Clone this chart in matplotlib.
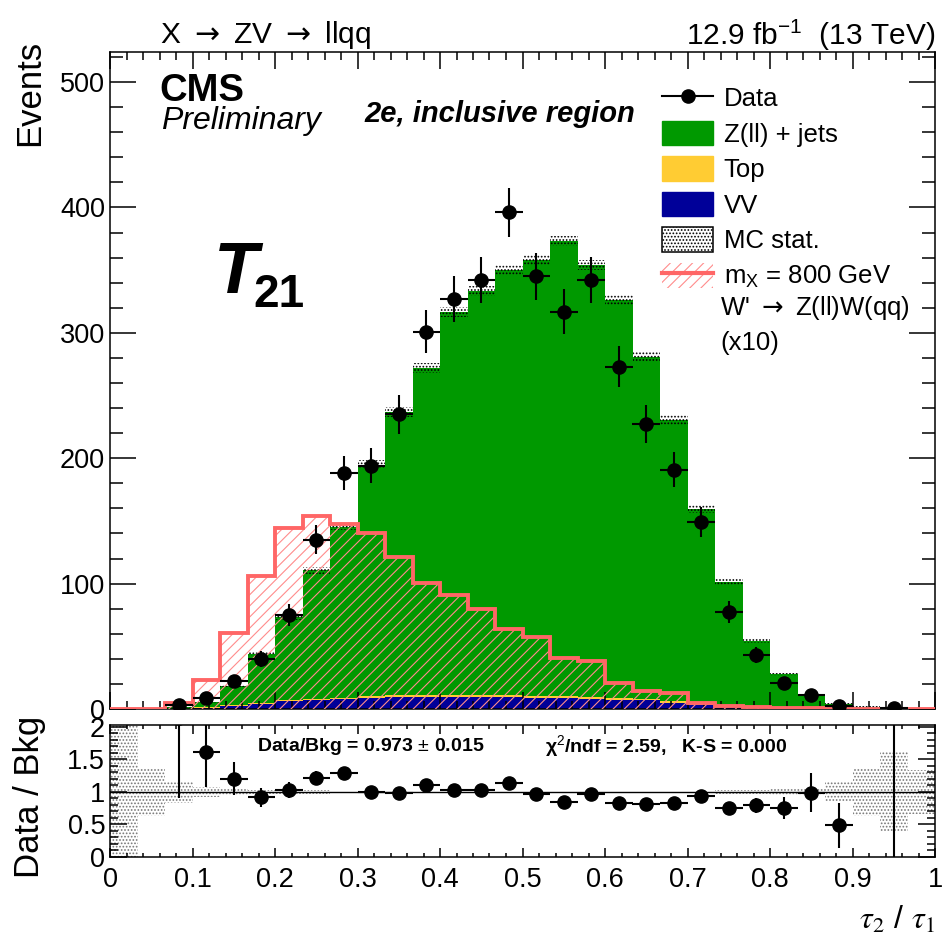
import numpy as np
import matplotlib.pyplot as plt
from matplotlib.patches import Patch
from matplotlib.lines import Line2D
from matplotlib.ticker import MultipleLocator

plt.rcParams['font.family'] = ['Liberation Sans', 'DejaVu Sans']
plt.rcParams['mathtext.fontset'] = 'custom'
plt.rcParams['mathtext.rm'] = 'Liberation Sans'
plt.rcParams['mathtext.it'] = 'Liberation Sans:italic'
plt.rcParams['mathtext.bf'] = 'Liberation Sans:bold'
plt.rcParams['hatch.linewidth'] = 0.8
plt.rcParams['axes.linewidth'] = 1.1

# 30 bins of tau21 between 0 and 1
edges = np.linspace(0, 1, 31)

# background processes (events per bin)
zjets = [0.02, 0.1, 1.1, 4.4, 15.5, 39.2, 66.2, 102.5, 136.5, 184.8,
         226, 261, 305.5, 322.5, 339, 347.5, 363.5, 344.5, 317, 272.8,
         224.5, 155, 98.2, 52.2, 26.5, 10.4, 3.7, 1.2, 0.35, 0.3]
top = [0, 0, 0, 0.2, 0.3, 0.5, 0.8, 1, 1, 1.2,
       1.5, 1.5, 1.5, 1.5, 1.5, 1.5, 1.5, 1.5, 1.5, 1.2,
       1, 1, 0.8, 0.5, 0.3, 0.2, 0.1, 0.1, 0, 0]
vv = [0, 0, 0.3, 1, 2.5, 4, 6, 7, 8, 9,
      9.5, 9.5, 9.5, 9.5, 9.5, 9, 8.5, 8, 7.5, 7,
      5, 3.5, 2.5, 1.5, 1, 0.5, 0.3, 0.2, 0.1, 0]
# MC statistical uncertainty on the total background
mc_err = [0.03, 0.037, 0.24, 0.45, 0.9, 1.6, 2.2, 2.8, 3.0, 3.5,
          4, 4, 4, 4, 4, 4, 4, 4, 4, 4,
          4, 3.5, 2.5, 1.6, 1.1, 0.6, 0.6, 0.55, 0.28, 0.1]
# observed data
data = [0, 0, 3, 9, 22, 40, 75, 135, 188, 194,
        235, 301, 327, 342, 396, 345, 317, 342, 273, 227,
        191, 149, 77, 43, 21, 11, 2, 0, 1, 0]
# signal m_X = 800 GeV (x10)
signal = [0, 0, 4.5, 23, 61, 106, 144, 154, 147.5, 140,
          121, 100.5, 91, 80, 64, 57.5, 41, 38, 20.5, 14.5,
          12.5, 5, 2.6, 1.9, 0.4, 0.4, 0.3, 0.3, 0.3, 0.3]

zjets = np.array(zjets); top = np.array(top); vv = np.array(vv)
mc_err = np.array(mc_err); data = np.array(data, dtype=float); signal = np.array(signal)
centers = 0.5 * (edges[:-1] + edges[1:])
half = 0.5 * (edges[1] - edges[0])
total = zjets + top + vv

W, H = 943, 942
fig = plt.figure(figsize=(W / 100, H / 100), dpi=100)


def fx(x):
    return x / W


def fy(y):
    return 1 - y / H


ax = fig.add_axes([fx(110), fy(709), fx(935) - fx(110), fy(52) - fy(709)])
rax = fig.add_axes([fx(110), fy(857), fx(935) - fx(110), fy(725) - fy(857)])

# stacked backgrounds
ax.stairs(vv, edges, fill=True, color='#000099', lw=0, zorder=1)
ax.stairs(vv + top, edges, baseline=vv, fill=True, color='#ffcc33', lw=0, zorder=1)
ax.stairs(total, edges, baseline=vv + top, fill=True, color='#009900', lw=0, zorder=1)
# MC stat band
ax.stairs(total + mc_err, edges, baseline=total - mc_err, fill=True, facecolor='none',
          edgecolor='k', hatch='.....', lw=0, zorder=2)
# signal
ax.stairs(signal, edges, fill=True, facecolor='none', edgecolor='#ff8c8c',
          hatch='///', lw=0, zorder=3)
ax.stairs(signal, edges, color='#ff6666', lw=2.8, zorder=3)

m = data > 0
ax.errorbar(centers[m], data[m], yerr=np.sqrt(data[m]), xerr=half, fmt='o', color='k',
            ms=9.5, elinewidth=1.5, capsize=0, zorder=5)

ax.set_xlim(0, 1)
ax.set_ylim(0, 524)
ax.xaxis.set_major_locator(MultipleLocator(0.1))
ax.xaxis.set_minor_locator(MultipleLocator(0.02))
ax.yaxis.set_major_locator(MultipleLocator(100))
ax.yaxis.set_minor_locator(MultipleLocator(20))
ax.tick_params(which='both', direction='in', top=True, right=True, labelbottom=False,
               labelsize=19.5, width=1.1)
ax.tick_params(axis='y', which='major', length=19)
ax.tick_params(axis='y', which='minor', length=9.5)
ax.tick_params(axis='x', which='major', length=12)
ax.tick_params(axis='x', which='minor', length=6)

# legend
handles = [
    Line2D([], [], color='k', marker='o', ms=9.5, lw=1.5),
    Patch(facecolor='#009900', edgecolor='#009900'),
    Patch(facecolor='#ffcc33', edgecolor='#ffcc33'),
    Patch(facecolor='#000099', edgecolor='#000099'),
    Patch(facecolor='white', edgecolor='k', hatch='.....', lw=1.1),
    (Patch(facecolor='none', edgecolor='#ff8c8c', hatch='///', lw=0),
     Line2D([], [], color='#ff6666', lw=3)),
]
labels = ['Data', 'Z(ll) + jets', 'Top', 'VV', 'MC stat.', 'm$_{\\rm X}$ = 800 GeV']
ax.legend(handles, labels, loc='upper left', bbox_to_anchor=((662 - 110) / 825, (709 - 85) / 657),
          frameon=False, fontsize=18.5, borderpad=0, borderaxespad=0, handlelength=2.0,
          handleheight=1.1, handletextpad=0.4, labelspacing=0.37)
fig.text(fx(720), fy(308), "W' $\\rightarrow$ Z(ll)W(qq)", fontsize=18.5, va='center',
         math_fontfamily='dejavusans')
fig.text(fx(720), fy(343), '(x10)', fontsize=18.5, va='center')

# texts
fig.text(fx(160), fy(35), 'X $\\rightarrow$ ZV $\\rightarrow$ llqq', fontsize=21.5, va='center',
         math_fontfamily='dejavusans')
fig.text(fx(935), fy(35), '12.9 fb$^{-1}$  (13 TeV)', fontsize=21.5, va='center', ha='right')
fig.text(fx(159), fy(101), 'CMS', fontsize=27.5, fontweight='bold', va='baseline')
fig.text(fx(161), fy(129), 'Preliminary', fontsize=23, fontstyle='italic', va='baseline')
fig.text(fx(364), fy(122), '2e, inclusive region', fontsize=21, fontweight='bold',
         fontstyle='italic', va='baseline')
fig.text(fx(214), fy(293), 'T', fontsize=52, fontweight='bold', fontstyle='italic', va='baseline')
fig.text(fx(253), fy(307), '21', fontsize=33, fontweight='bold', va='baseline')

fig.text(fx(13), fy(40), 'Events', fontsize=25, rotation=90, ha='left', va='top')
fig.text(fx(13), fy(716), 'Data / Bkg', fontsize=25, rotation=90, ha='left', va='top')

# ratio panel
rel = np.where(total > 0, mc_err / total, 1.0)
rax.stairs(1 + rel, edges, baseline=1 - rel, fill=True, facecolor='none',
           edgecolor='#777777', hatch='.....', lw=0, zorder=1)
rax.axhline(1, color='k', lw=1.0, zorder=2)
ratio = data[m] / total[m]
ratio_err = np.sqrt(data[m]) / total[m]
xerr = np.where(ratio > 2, 0, half)
rax.errorbar(centers[m], ratio, yerr=ratio_err, xerr=xerr, fmt='o', color='k',
             ms=9.5, elinewidth=1.5, capsize=0, zorder=5)
rax.set_xlim(0, 1)
rax.set_ylim(0, 2.03)
rax.xaxis.set_minor_locator(MultipleLocator(0.02))
rax.yaxis.set_minor_locator(MultipleLocator(0.1))
rax.set_xticks(np.arange(0, 1.01, 0.1))
rax.set_xticklabels(['0', '0.1', '0.2', '0.3', '0.4', '0.5', '0.6', '0.7', '0.8', '0.9', '1'])
rax.set_yticks([0, 0.5, 1, 1.5, 2])
rax.set_yticklabels(['0', '0.5', '1', '1.5', '2'])
rax.tick_params(which='both', direction='in', top=True, right=True, labelsize=19.5, width=1.1)
rax.tick_params(axis='x', which='major', length=6.5, pad=7)
rax.tick_params(axis='x', which='minor', length=3.2)
rax.tick_params(axis='y', which='major', length=12)
rax.tick_params(axis='y', which='minor', length=6)

rax.text(0.178, 1.7, 'Data/Bkg = 0.973 $\\pm$ 0.015', fontsize=14, fontweight='bold', va='center')
rax.text(0.527, 1.7, '\u03c7$^{2}$/ndf = 2.59,   K-S = 0.000', fontsize=14, fontweight='bold',
         va='center')

fig.text(fx(935), fy(929), r'$\tau_{2}$ / $\tau_{1}$', fontsize=23, ha='right', va='baseline',
         math_fontfamily='stix')

fig.savefig('out.png', dpi=100)
